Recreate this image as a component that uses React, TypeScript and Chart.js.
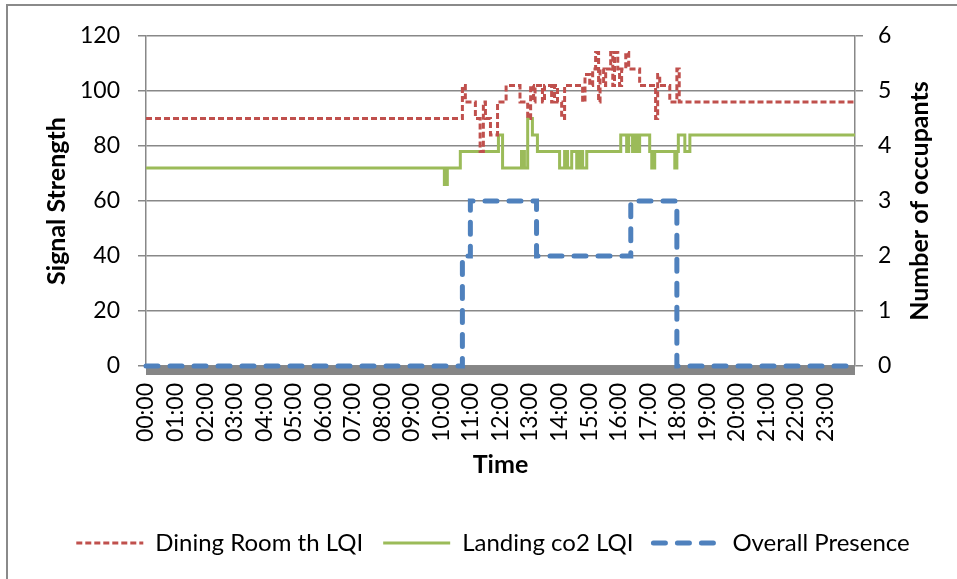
import React, { useEffect, useRef } from "react";
import { Chart, registerables } from "chart.js";

Chart.register(...registerables);

// ---- Data (hours from midnight, step change points) ----
const timeLabels = [
  "00:00", "01:00", "02:00", "03:00", "04:00", "05:00", "06:00", "07:00",
  "08:00", "09:00", "10:00", "11:00", "12:00", "13:00", "14:00", "15:00",
  "16:00", "17:00", "18:00", "19:00", "20:00", "21:00", "22:00", "23:00",
];

const diningTimes = [
  0, 10.71, 10.81, 11.15, 11.31, 11.42, 11.49, 11.66, 11.9, 12.19, 12.66,
  12.92, 13.02, 13.12, 13.17, 13.42, 13.49, 13.73, 13.83, 13.93, 14.07, 14.17,
  14.78, 14.86, 15.02, 15.12, 15.22, 15.32, 15.37, 15.49, 15.56, 15.73, 15.8,
  15.86, 15.97, 16.03, 16.1, 16.24, 16.34, 16.71, 17.25, 17.32, 17.39, 17.73,
  17.97, 18.05, 24,
];
const diningValues = [
  90, 102, 96, 90, 78, 96, 90, 84, 96, 102, 96,
  90, 102, 96, 102, 96, 102, 96, 102, 96, 90, 102,
  96, 106, 102, 108, 114, 96, 108, 102, 108, 114, 102,
  114, 108, 102, 108, 114, 108, 102, 90, 106, 102, 96,
  108, 96, 96,
];

const landingTimes = [
  0, 10.1, 10.2, 10.64, 11.93, 12.07, 12.71, 12.81, 12.92, 13.08, 13.25,
  14.0, 14.17, 14.27, 14.41, 14.58, 14.68, 14.78, 14.92, 16.07, 16.27, 16.34,
  16.47, 16.53, 16.61, 16.71, 17.05, 17.12, 17.22, 17.9, 17.97, 18.02, 18.24,
  18.41, 24,
];
const landingValues = [
  72, 66, 72, 78, 84, 72, 78, 72, 90, 84, 78,
  72, 78, 72, 78, 72, 78, 72, 78, 84, 78, 84,
  78, 84, 78, 84, 78, 72, 78, 72, 78, 84, 78,
  84, 84,
];

const presenceTimes = [0, 10.71, 10.98, 13.22, 16.41, 17.97, 24];
const presenceValues = [0, 2, 3, 2, 3, 0, 0];

const leftAxisTitle = "Signal Strength";
const rightAxisTitle = "Number of occupants";
const xAxisTitle = "Time";

const FONT = "Lato";
const GRID = "#888888";

function toPoints(times: number[], values: number[]) {
  return times.map((t, i) => ({ x: t, y: values[i] }));
}

const floorPlugin = {
  id: "floorBar",
  beforeDatasetsDraw(chart: any) {
    const { ctx, chartArea } = chart;
    ctx.save();
    ctx.fillStyle = "#868686";
    ctx.fillRect(chartArea.left, chartArea.bottom, chartArea.right - chartArea.left, 9);
    ctx.restore();
  },
};

const rightTitlePlugin = {
  id: "rightTitle",
  afterDraw(chart: any) {
    const { ctx } = chart;
    const s = chart.scales.y1;
    ctx.save();
    ctx.font = `bold 25px ${FONT}`;
    ctx.fillStyle = "#000";
    ctx.textAlign = "center";
    ctx.textBaseline = "middle";
    ctx.translate(920, (s.top + s.bottom) / 2);
    ctx.rotate(-Math.PI / 2);
    ctx.fillText(rightAxisTitle, 0, 0);
    ctx.restore();
  },
};

export default function App() {
  const ref = useRef<HTMLCanvasElement | null>(null);

  useEffect(() => {
    let chart: Chart | null = null;
    let cancelled = false;
    const make = () => {
      if (cancelled || !ref.current) return;
      const font = { family: FONT, size: 23 };
      const legendFont = { family: FONT, size: 24 };
      const bold = { family: FONT, size: 25, weight: "bold" as const };
      chart = new Chart(ref.current, {
        type: "line",
        data: {
          datasets: [
            {
              label: "Dining Room th LQI",
              data: toPoints(diningTimes, diningValues),
              borderColor: "#C0504D",
              backgroundColor: "#C0504D",
              borderWidth: 3,
              borderDash: [6, 3],
              stepped: true,
              pointRadius: 0,
              yAxisID: "y",
              clip: 6,
            },
            {
              label: "Landing co2 LQI",
              data: toPoints(landingTimes, landingValues),
              borderColor: "#9BBB59",
              backgroundColor: "#9BBB59",
              borderWidth: 3,
              stepped: true,
              pointRadius: 0,
              yAxisID: "y",
              clip: 6,
            },
            {
              label: "Overall Presence",
              data: toPoints(presenceTimes, presenceValues),
              borderColor: "#4F81BD",
              backgroundColor: "#4F81BD",
              borderWidth: 5,
              borderDash: [12, 12],
              borderCapStyle: "round",
              stepped: true,
              pointRadius: 0,
              yAxisID: "y1",
              clip: 6,
            },
          ],
        },
        options: {
          animation: false,
          responsive: false,
          devicePixelRatio: 1,
          layout: { padding: { left: 29, top: 36, right: 0, bottom: 14 } },
          plugins: {
            tooltip: { enabled: false },
            legend: {
              position: "bottom",
              labels: {
                usePointStyle: true,
                pointStyleWidth: 67,
                padding: 20,
                color: "#000",
                font: legendFont,
                generateLabels(c: any) {
                  return c.data.datasets.map((ds: any, i: number) => ({
                    text: ds.label,
                    fillStyle: ds.borderColor,
                    strokeStyle: ds.borderColor,
                    lineWidth: ds.borderWidth,
                    lineDash: ds.borderDash || [],
                    lineCap: ds.borderCapStyle || "butt",
                    pointStyle: "line",
                    hidden: false,
                    datasetIndex: i,
                    fontColor: "#000",
                  }));
                },
              },
            },
          },
          scales: {
            x: {
              type: "linear",
              min: 0,
              max: 24,
              grid: { display: false, drawTicks: false },
              border: { display: false },
              ticks: {
                stepSize: 1,
                autoSkip: false,
                minRotation: 90,
                maxRotation: 90,
                padding: 17,
                color: "#000",
                font,
                callback: (v: any) => timeLabels[v] ?? "",
              },
              title: { display: true, text: xAxisTitle, color: "#000", font: bold, padding: { top: 0, bottom: 31 } },
              afterFit(s: any) {
                s.height = 145;
              },
            },
            y: {
              position: "left",
              min: 0,
              max: 120,
              grid: { color: GRID, lineWidth: 1.5, tickLength: 8 },
              border: { color: GRID, width: 1.5 },
              ticks: { stepSize: 20, padding: 18, color: "#000", font },
              title: { display: true, text: leftAxisTitle, color: "#000", font: bold, padding: { top: 13, bottom: 0 } },
              afterFit(s: any) {
                s.width = 117;
              },
            },
            y1: {
              position: "right",
              min: 0,
              max: 6,
              grid: { drawOnChartArea: false, color: GRID, lineWidth: 1.5, tickLength: 8 },
              border: { color: GRID, width: 1.5 },
              ticks: { stepSize: 1, padding: 15, color: "#000", font },
              title: { display: false, text: rightAxisTitle },
              afterFit(s: any) {
                s.width = 102;
              },
            },
          },
        } as any,
        plugins: [floorPlugin, rightTitlePlugin],
      });
    };
    const fonts = (document as any).fonts;
    if (fonts && fonts.load) {
      Promise.all([fonts.load(`23px ${FONT}`), fonts.load(`bold 25px ${FONT}`)])
        .catch(() => {})
        .then(make);
    } else {
      make();
    }
    return () => {
      cancelled = true;
      if (chart) chart.destroy();
    };
  }, []);

  return (
    <div
      style={{
        position: "fixed",
        left: 0,
        top: 0,
        width: 957,
        height: 579,
        overflow: "hidden",
        background: "#fff",
      }}
    >
      <div
        style={{
          position: "absolute",
          left: 6,
          top: 4,
          width: 1200,
          height: 1200,
          border: "2px solid #8a8a8a",
          boxSizing: "border-box",
        }}
      />
      <canvas ref={ref} width={957} height={579} style={{ position: "absolute", left: 0, top: 0 }} />
    </div>
  );
}
